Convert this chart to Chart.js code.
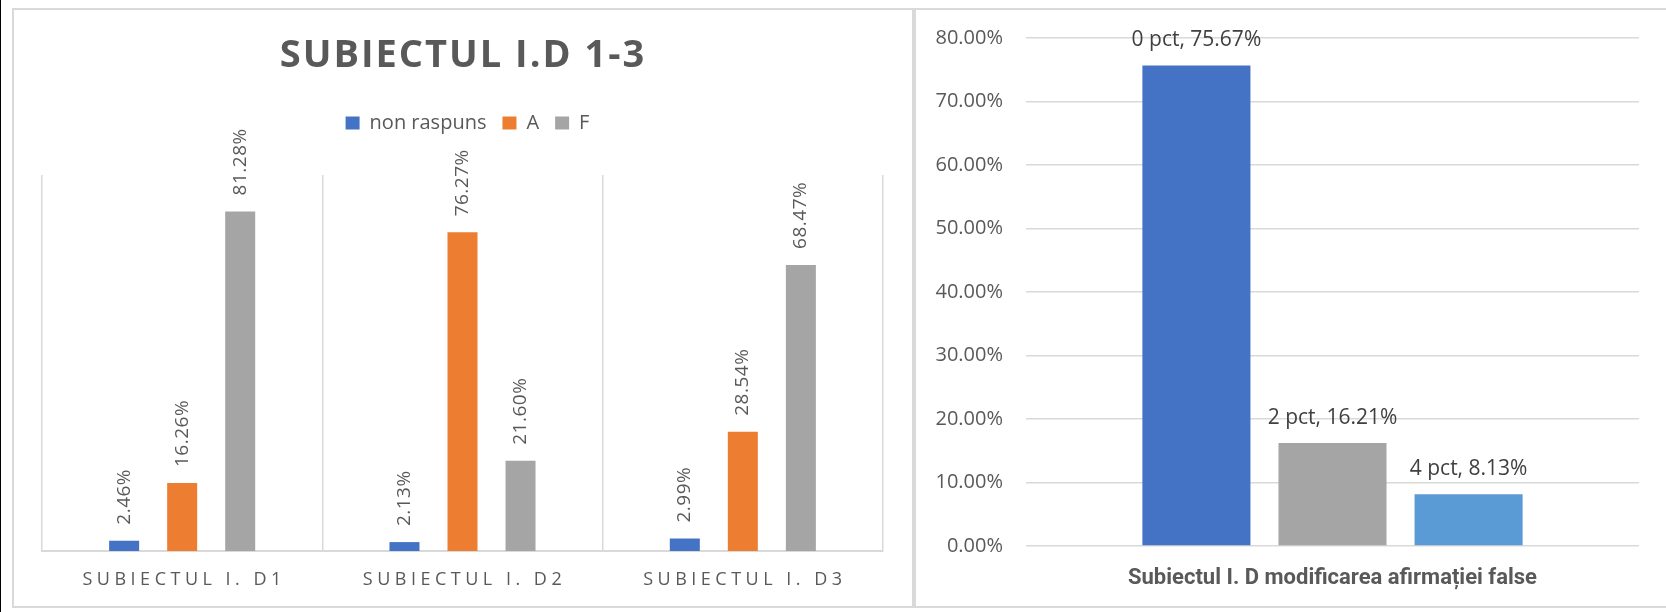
<!DOCTYPE html>
<html lang="ro">
<head>
<meta charset="UTF-8">
<title>Subiectul I.D</title>
<script src="https://cdn.jsdelivr.net/npm/chart.js@4.4.1/dist/chart.umd.min.js"></script>
<style>
  body { margin: 0; width: 1666px; height: 612px; overflow: hidden; background: #fff; position: relative; }
  .edge { position: absolute; left: 0; top: 0; width: 1px; height: 612px; background: #000; }
  .panel { position: absolute; top: 8px; height: 600px; border: 2px solid #d9d9d9; box-sizing: border-box; }
  #leftPanel { left: 12px; width: 902px; }
  #rightPanel { left: 914px; width: 770px; }
  canvas { position: absolute; top: 10px; }
  #chartD13 { left: 14px; }
  #chartFalse { left: 916px; }
</style>
</head>
<body>
<div class="edge"></div>
<div class="panel" id="leftPanel"></div>
<div class="panel" id="rightPanel"></div>
<canvas id="chartD13" width="896" height="596"></canvas>
<canvas id="chartFalse" width="750" height="596"></canvas>
<script>
// Left chart data (percent)
const titleD13 = 'SUBIECTUL I.D 1-3';
const categories = ['SUBIECTUL I. D1', 'SUBIECTUL I. D2', 'SUBIECTUL I. D3'];
const seriesNames = ['non raspuns', 'A', 'F'];
const nonRaspuns = [2.46, 2.13, 2.99];
const raspunsA = [16.26, 76.27, 28.54];
const raspunsF = [81.28, 21.60, 68.47];

// Right chart data (percent)
const falseCategory = ['Subiectul I. D modificarea afirmației false'];
const pointLabels = ['0 pct', '2 pct', '4 pct'];
const pointValues = [75.67, 16.21, 8.13];
const falseTicks = [0, 10, 20, 30, 40, 50, 60, 70, 80];

const textColor = '#595959';
const gridColor = '#d9d9d9';

Chart.defaults.font.family = "'Open Sans', sans-serif";
Chart.defaults.color = textColor;

// Extra room under the legend
const legendGap = {
    id: 'legendGap',
    beforeInit(chart) {
        if (!chart.legend) return;
        const fit = chart.legend.fit;
        chart.legend.fit = function () {
            fit.bind(chart.legend)();
            this.height += 32;
        };
    }
};

// Title, spaced category labels and rotated value labels
const leftText = {
    id: 'leftText',
    afterDraw(chart) {
        const ctx = chart.ctx;
        ctx.save();
        ctx.fillStyle = textColor;
        ctx.textAlign = 'center';
        ctx.textBaseline = 'middle';

        ctx.font = "bold 38px 'Open Sans'";
        ctx.letterSpacing = '2px';
        ctx.fillText(titleD13, chart.width / 2 + 1, 46);

        const xScale = chart.scales.x;
        ctx.font = "18px 'Open Sans'";
        ctx.letterSpacing = '4.5px';
        categories.forEach((c, i) => {
            ctx.fillText(c, xScale.getPixelForTick(i) + 2, 570);
        });

        ctx.font = "19px 'Open Sans'";
        ctx.letterSpacing = '0.5px';
        ctx.textAlign = 'left';
        chart.data.datasets.forEach((ds, i) => {
            chart.getDatasetMeta(i).data.forEach((bar, j) => {
                ctx.save();
                ctx.translate(bar.x, bar.y - 16);
                ctx.rotate(-Math.PI / 2);
                ctx.fillText(ds.data[j].toFixed(2) + '%', 0, 0);
                ctx.restore();
            });
        });
        ctx.restore();
    }
};

// "N pct, value%" labels above the bars
const rightText = {
    id: 'rightText',
    afterDatasetsDraw(chart) {
        const ctx = chart.ctx;
        ctx.save();
        ctx.font = "21px 'Open Sans'";
        ctx.fillStyle = '#404040';
        ctx.textAlign = 'center';
        ctx.textBaseline = 'middle';
        chart.data.datasets.forEach((ds, i) => {
            const bar = chart.getDatasetMeta(i).data[0];
            ctx.fillText(`${ds.label}, ${ds.data[0].toFixed(2)}%`, bar.x, bar.y - 25);
        });
        ctx.restore();
    }
};

function createLeftChart() {
    const ctx = document.getElementById('chartD13').getContext('2d');
    const values = [nonRaspuns, raspunsA, raspunsF];
    const colors = ['#4472C4', '#ED7D31', '#A5A5A5'];
    return new Chart(ctx, {
        type: 'bar',
        data: {
            labels: categories,
            datasets: seriesNames.map((name, i) => ({
                label: name,
                data: values[i],
                backgroundColor: colors[i],
                categoryPercentage: 0.621,
                barPercentage: 0.517
            }))
        },
        options: {
            responsive: false,
            animation: false,
            layout: { padding: { top: 87, left: 28, right: 17, bottom: 55 } },
            scales: {
                x: {
                    grid: { color: gridColor, lineWidth: 1.5, drawTicks: false },
                    border: { color: gridColor, width: 2 },
                    ticks: { display: false }
                },
                y: {
                    position: 'right',
                    min: 0,
                    max: 90,
                    grid: { display: false, drawTicks: false },
                    border: { display: false },
                    ticks: { display: false },
                    afterFit: scale => { scale.width = 10; }
                }
            },
            plugins: {
                legend: {
                    position: 'top',
                    labels: {
                        boxWidth: 14,
                        boxHeight: 13,
                        padding: 16,
                        color: textColor,
                        font: { size: 20 }
                    }
                },
                tooltip: { enabled: false }
            }
        },
        plugins: [legendGap, leftText]
    });
}

function createRightChart() {
    const ctx = document.getElementById('chartFalse').getContext('2d');
    const colors = ['#4472C4', '#A5A5A5', '#5B9BD5'];
    return new Chart(ctx, {
        type: 'bar',
        data: {
            labels: falseCategory,
            datasets: pointLabels.map((name, i) => ({
                label: name,
                data: [pointValues[i]],
                backgroundColor: colors[i],
                categoryPercentage: 0.666,
                barPercentage: 0.794
            }))
        },
        options: {
            responsive: false,
            animation: false,
            layout: { padding: { top: 28, left: 0, right: 27, bottom: 10.6 } },
            scales: {
                x: {
                    grid: { display: false },
                    border: { display: false },
                    ticks: { display: false },
                    title: {
                        display: true,
                        text: falseCategory[0],
                        color: textColor,
                        font: { family: 'Roboto', size: 22, weight: 'bold' },
                        padding: { top: 11, bottom: 4 }
                    }
                },
                y: {
                    min: falseTicks[0],
                    max: falseTicks[falseTicks.length - 1],
                    ticks: {
                        stepSize: falseTicks[1] - falseTicks[0],
                        padding: 23,
                        color: textColor,
                        font: { size: 20 },
                        callback: v => v.toFixed(2) + '%'
                    },
                    grid: { color: gridColor, lineWidth: 1.5, drawTicks: false },
                    border: { display: false },
                    afterFit: scale => {
                        scale.width = 110;
                        scale.paddingTop = 0;
                        scale.paddingBottom = 0;
                    }
                }
            },
            plugins: {
                legend: { display: false },
                tooltip: { enabled: false }
            }
        },
        plugins: [rightText]
    });
}

createLeftChart();
createRightChart();
</script>
</body>
</html>
